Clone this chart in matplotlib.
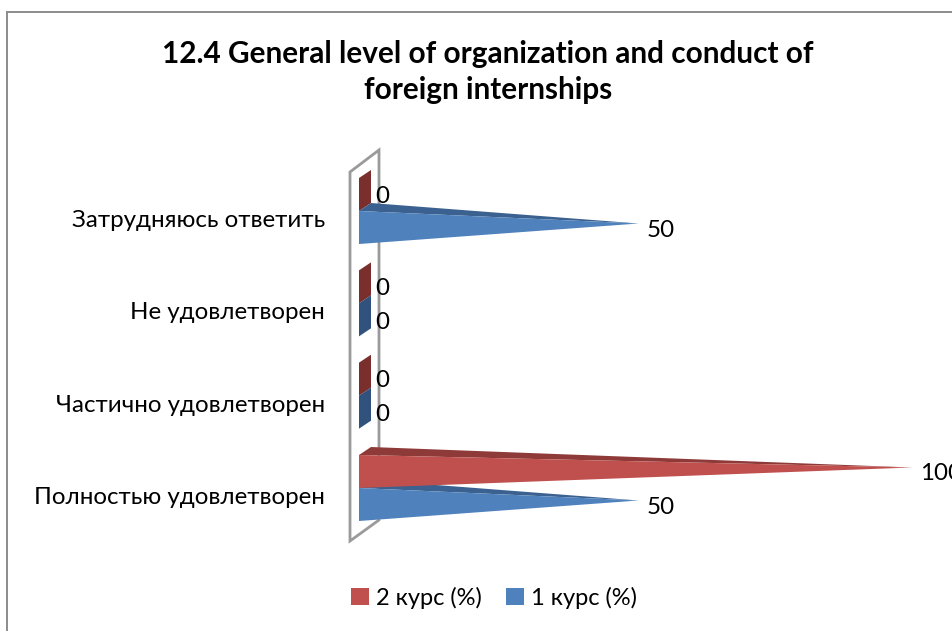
import matplotlib
matplotlib.use("Agg")
import matplotlib.pyplot as plt
from matplotlib.patches import Polygon, Patch
from matplotlib.lines import Line2D

W, H = 953, 631
plt.rcParams['font.family'] = ['Lato', 'Open Sans', 'DejaVu Sans']

title = "12.4 General level of organization and conduct of\nforeign internships"
categories = ["Полностью удовлетворен", "Частично удовлетворен", "Не удовлетворен", "Затрудняюсь ответить"]
course2 = [100, 0, 0, 0]
course1 = [50, 0, 0, 50]
name2 = "2 курс (%)"
name1 = "1 курс (%)"

fig = plt.figure(figsize=(W / 100, H / 100), dpi=100)
X0, X1 = 359, 906
ax = fig.add_axes([X0 / W, 0, (X1 - X0) / W, 1])
ax.set_xlim(0, 100)
STEP = 92.33
ax.set_ylim((488 - H) / STEP, 488 / STEP)
ux = 100 / (X1 - X0)   # x data units per pixel
uy = 1 / STEP          # y data units per pixel
DX, DY = 12 * ux, 8 * uy
HB = 33 * uy

for s in ax.spines.values():
    s.set_visible(False)
ax.set_xticks([])
ax.set_yticks([i - 7.5 * uy for i in range(len(categories))])
ax.set_yticklabels(categories, fontsize=17.4, color="#000000")
ax.tick_params(axis="y", length=0, pad=24.5)

# back wall
wall = Polygon([(-9 * ux, (488 - 172) * uy), (20 * ux, (488 - 150) * uy),
                (20 * ux, (488 - 520) * uy), (-9 * ux, (488 - 541) * uy)],
               closed=True, fill=False, ec="#9A9A9A", lw=2, clip_on=False, zorder=1)
ax.add_patch(wall)


def bar(value, y0, y1, front, top, side):
    """Pyramid bar from base (0, y0..y1) with apex at the 3D centre."""
    ym = (y0 + y1) / 2
    if value == 0:
        ax.add_patch(Polygon([(0, y0), (0, y1), (DX, y1 + DY), (DX, y0 + DY)],
                             closed=True, fc=side, ec="none", clip_on=False, zorder=3))
        return
    apex = (value + DX / 2, ym + DY / 2)
    ax.add_patch(Polygon([(0, y1), (DX, y1 + DY), apex], closed=True, fc=top, ec="none",
                         clip_on=False, zorder=3))
    ax.add_patch(Polygon([(0, y0), (0, y1), apex], closed=True, fc=front, ec="none",
                         clip_on=False, zorder=4))


RED = ("#C0504D", "#8E3A38", "#7A2F2D")
BLUE = ("#4F81BD", "#3A618F", "#31527C")
for i, (v2, v1) in enumerate(zip(course2, course1)):
    bar(v2, i, i + HB, *RED)
    bar(v1, i - HB, i, *BLUE)
    for v, yoff in ((v2, 15), (v1, -19)):
        xoff = 16 if v == 0 else 14
        ax.text(v + xoff * ux, i + yoff * uy, str(v), fontsize=17.4, ha="left", va="center",
                color="#000000", clip_on=False, zorder=6)

fig.text(488 / W, 1 - 72 / H, title, fontsize=21.4, fontweight="bold", ha="center", va="center",
         linespacing=1.38, color="#000000")

handles = [Patch(fc=RED[0], ec="none", label=name2), Patch(fc=BLUE[0], ec="none", label=name1)]
fig.legend(handles=handles, loc="center", bbox_to_anchor=(494 / W, 1 - 598 / H), ncol=2, frameon=False,
           fontsize=17, handlelength=0.75, handleheight=0.75, handletextpad=0.3, columnspacing=1.05,
           borderpad=0, borderaxespad=0)

# chart frame
fig.add_artist(Line2D([7 / W, 7 / W], [0, 1 - 12 / H], color="#8C8C8C", lw=1.4))
fig.add_artist(Line2D([7 / W, 1], [1 - 12 / H, 1 - 12 / H], color="#8C8C8C", lw=1.4))

fig.savefig("out.png", dpi=100)
